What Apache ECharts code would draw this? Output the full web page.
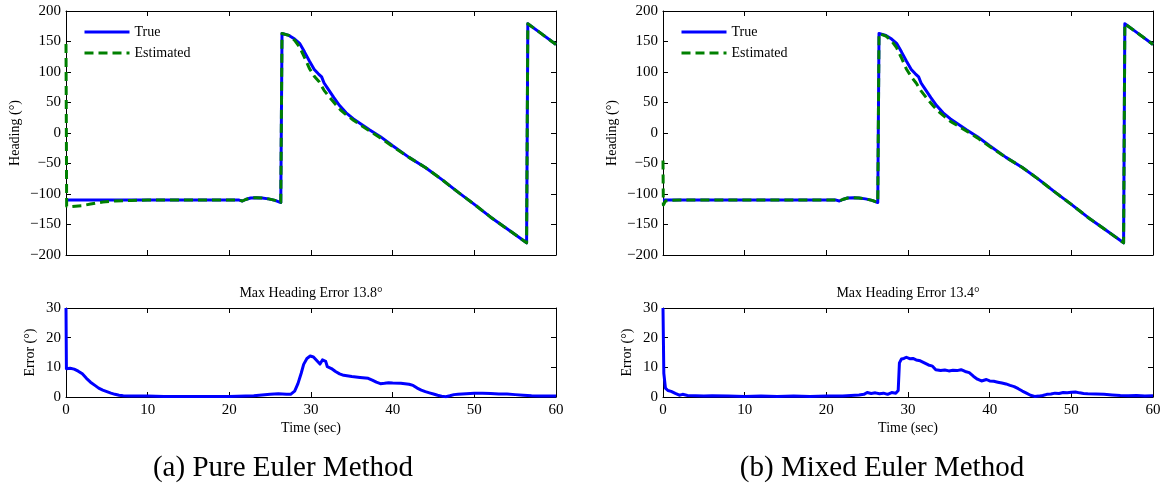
<!DOCTYPE html>
<html>
<head>
<meta charset="utf-8">
<script src="https://cdn.jsdelivr.net/npm/echarts@6/dist/echarts.min.js"></script>
<style>
  html, body { margin: 0; padding: 0; background: #fff; }
  #main { width: 1164px; height: 488px; }
</style>
</head>
<body>
<div id="main"></div>
<script>
// Heading (deg) versus time (sec): [time, value]
const trueHeading = [
  [0, -110], [21.2, -110], [21.6, -111.5], [22.0, -109], [22.6, -106.5], [23.3, -106],
  [24.0, -106.5], [24.8, -108], [25.6, -110.5], [26.3, -114], [26.4, -116],
  [26.45, 163], [27.3, 160], [28.0, 154], [28.6, 147], [29.2, 133], [29.8, 118],
  [30.4, 104], [30.9, 97], [31.3, 92], [31.6, 82], [32.1, 72], [32.8, 58], [33.5, 45],
  [34.3, 33], [35.2, 23], [36.2, 14], [37.2, 5], [38.5, -6], [40.0, -21], [42.0, -40],
  [44.0, -56.5], [46.0, -76], [48.0, -97], [50.0, -117], [52.0, -138], [54.0, -157],
  [56.4, -180], [56.55, 179], [58.0, 165], [60, 145]
];

const pureEstimated = [
  [0, 146], [0.08, -120], [0.6, -120.5], [2.0, -119], [3.0, -116.5], [4.5, -113],
  [6.0, -111.5], [8.0, -110.5], [10.0, -110], [21.2, -110], [21.6, -111.5], [22.0, -109],
  [22.6, -106.5], [23.3, -106], [24.0, -106.5], [24.8, -108], [25.6, -110.5], [26.3, -114],
  [26.4, -116], [26.45, 163], [27.3, 160], [28.0, 152], [28.6, 141], [29.2, 124],
  [29.8, 106], [30.4, 93], [31.0, 84], [31.6, 70], [32.3, 58], [33.0, 47], [33.6, 38],
  [34.3, 30], [35.2, 21], [36.2, 12], [37.2, 3], [38.5, -8], [40.0, -22], [42.0, -40],
  [44.0, -56.5], [46.0, -76], [48.0, -97], [50.0, -117], [52.0, -138], [54.0, -157],
  [56.4, -180], [56.55, 179], [58.0, 165], [60, 145]
];

const mixedEstimated = [
  [0, -45], [0.04, -118], [0.3, -111.5], [1.0, -110.5], [2.0, -110], [21.2, -110],
  [21.6, -111.5], [22.0, -109], [22.6, -106.5], [23.3, -106], [24.0, -106.5], [24.8, -108],
  [25.6, -110.5], [26.3, -114], [26.4, -116], [26.45, 163], [27.3, 159], [28.0, 151],
  [28.6, 140], [29.2, 123], [29.8, 105], [30.4, 92], [31.0, 82], [31.6, 69], [32.3, 57],
  [33.0, 46], [33.6, 37], [34.3, 29], [35.2, 19], [36.2, 11], [37.2, 3], [38.5, -8],
  [40.0, -22], [42.0, -40], [44.0, -56.5], [46.0, -76], [48.0, -97], [50.0, -117],
  [52.0, -138], [54.0, -157], [56.4, -180], [56.55, 179], [58.0, 165], [60, 145]
];

// Heading error magnitude (deg)
const pureError = [
  [0, 30], [0.05, 9.5], [0.5, 9.7], [1.0, 9.4], [1.5, 8.7], [2.0, 7.8], [2.5, 6.3],
  [3.0, 5.0], [3.5, 4.0], [4.0, 3.0], [4.5, 2.3], [5.0, 1.8], [5.5, 1.3], [6.0, 0.9],
  [6.5, 0.6], [7.0, 0.4], [8, 0.3], [10, 0.3], [12, 0.2], [15, 0.2], [18, 0.2], [20, 0.2],
  [22, 0.3], [23, 0.4], [24, 0.7], [25, 0.9], [26, 1.1], [27, 0.9], [27.5, 0.9],
  [28.0, 2.0], [28.4, 4.5], [28.8, 8.0], [29.1, 11.0], [29.5, 13.0], [29.9, 13.8],
  [30.3, 13.5], [30.7, 12.3], [31.1, 11.1], [31.4, 12.5], [31.6, 13.0], [31.8, 12.0],
  [32.0, 10.2], [32.5, 9.6], [33.0, 8.6], [33.5, 7.8], [34.0, 7.3], [35.0, 6.9],
  [36.0, 6.6], [37.0, 6.3], [37.5, 5.7], [38.0, 5.0], [38.5, 4.5], [39.0, 4.6],
  [39.5, 4.8], [40.0, 4.7], [41.0, 4.6], [42.0, 4.3], [42.5, 3.9], [43.0, 3.0],
  [43.5, 2.3], [44.0, 1.8], [44.5, 1.4], [45.0, 1.0], [45.5, 0.6], [46.0, 0.3],
  [46.5, 0.1], [47.0, 0.4], [47.5, 0.8], [48.0, 0.9], [49.0, 1.1], [50.0, 1.3],
  [51.0, 1.3], [52.0, 1.2], [53.0, 1.0], [54.0, 1.0], [55.0, 0.8], [56.0, 0.6],
  [57.0, 0.4], [58.0, 0.3], [59.0, 0.3], [60, 0.3]
];

const mixedError = [
  [0, 30], [0.1, 8], [0.3, 3], [0.6, 2.2], [1.0, 1.9], [1.5, 1.2], [2.0, 0.6], [2.4, 0.9],
  [3, 0.5], [4, 0.4], [5, 0.3], [6, 0.4], [8, 0.3], [10, 0.2], [12, 0.3], [14, 0.2],
  [16, 0.3], [18, 0.2], [20, 0.3], [22, 0.3], [23, 0.5], [24, 0.7], [24.6, 0.9],
  [25.0, 1.5], [25.5, 1.2], [26, 1.4], [26.5, 1.1], [27, 1.3], [27.5, 0.9], [28, 1.5],
  [28.5, 1.3], [28.8, 2.2], [28.95, 11.5], [29.2, 12.8], [29.5, 13.0], [29.8, 13.4],
  [30.2, 12.9], [30.6, 13.0], [31, 12.5], [31.5, 12.2], [32, 11.5], [32.5, 10.8],
  [33, 10.4], [33.4, 9.2], [34, 8.9], [34.5, 9.1], [35, 8.8], [35.5, 9.0], [36, 8.9],
  [36.5, 9.2], [37, 8.6], [37.5, 8.2], [38, 7.0], [38.5, 6.0], [39, 5.4], [39.6, 5.9],
  [40, 5.4], [40.5, 5.3], [41, 5.0], [41.5, 4.7], [42, 4.4], [42.5, 3.9], [43, 3.5],
  [43.5, 2.8], [44, 2.0], [44.5, 1.3], [45, 0.6], [45.5, 0.2], [46, 0.3], [46.5, 0.5],
  [47, 0.9], [47.5, 1.0], [48, 1.3], [48.5, 1.2], [49, 1.5], [49.5, 1.4], [50, 1.6],
  [50.5, 1.7], [51, 1.4], [51.5, 1.2], [52, 1.1], [53, 1.0], [54, 0.9], [55, 0.7],
  [56, 0.5], [57, 0.4], [58, 0.5], [59, 0.3], [60, 0.4]
];

const errorTitles = ['Max Heading Error 13.8°', 'Max Heading Error 13.4°'];
const captions = ['(a) Pure Euler Method', '(b) Mixed Euler Method'];
const seriesNames = ['True', 'Estimated'];

const FONT = '"Liberation Serif", "Times New Roman", serif';
const BLUE = '#0000ff';
const GREEN = '#008000';

const minusSign = v => String(v).replace('-', '\u2212');

const panelLeft = [66, 663];
const plotWidth = 490;

const grids = [];
panelLeft.forEach(l => {
  grids.push({ left: l, top: 11, width: plotWidth, height: 244 });
  grids.push({ left: l, top: 308, width: plotWidth, height: 89 });
});

function xAxisFor(gridIndex, position, opts) {
  return Object.assign({
    gridIndex, type: 'value', position, min: 0, max: 60, interval: 10,
    axisLine: { show: true, onZero: false, lineStyle: { color: '#000', width: 1 } },
    axisTick: { show: true, inside: true, length: 5, lineStyle: { color: '#000', width: 1 } },
    axisLabel: { show: false },
    splitLine: { show: false }
  }, opts || {});
}
function yAxisFor(gridIndex, position, min, max, interval, opts) {
  return Object.assign({
    gridIndex, type: 'value', position, min, max, interval,
    axisLine: { show: true, onZero: false, lineStyle: { color: '#000', width: 1 } },
    axisTick: { show: true, inside: true, length: 5, lineStyle: { color: '#000', width: 1 } },
    axisLabel: { show: false },
    splitLine: { show: false }
  }, opts || {});
}

const xAxes = [];
const yAxes = [];
for (let p = 0; p < 2; p++) {
  const gH = p * 2, gE = p * 2 + 1;
  // heading plot: ticks on all four sides, no x labels
  xAxes.push(xAxisFor(gH, 'bottom'));
  xAxes.push(xAxisFor(gH, 'top'));
  // error plot
  xAxes.push(xAxisFor(gE, 'bottom', {
    axisLabel: { show: true, color: '#000', fontFamily: FONT, fontSize: 15, margin: 6 },
    name: 'Time (sec)', nameLocation: 'middle', nameGap: 24,
    nameTextStyle: { color: '#000', fontFamily: FONT, fontSize: 14 }
  }));
  xAxes.push(xAxisFor(gE, 'top', {
    name: errorTitles[p], nameLocation: 'middle', nameGap: 8,
    nameTextStyle: { color: '#000', fontFamily: FONT, fontSize: 14 }
  }));

  yAxes.push(yAxisFor(gH, 'left', -200, 200, 50, {
    axisLabel: { show: true, color: '#000', fontFamily: FONT, fontSize: 15, margin: 5, formatter: minusSign },
    name: 'Heading (°)', nameLocation: 'middle', nameGap: 44, nameRotate: 90,
    nameTextStyle: { color: '#000', fontFamily: FONT, fontSize: 14 }
  }));
  yAxes.push(yAxisFor(gH, 'right', -200, 200, 50));
  yAxes.push(yAxisFor(gE, 'left', 0, 30, 10, {
    axisLabel: { show: true, color: '#000', fontFamily: FONT, fontSize: 15, margin: 5 },
    name: 'Error (°)', nameLocation: 'middle', nameGap: 29, nameRotate: 90,
    nameTextStyle: { color: '#000', fontFamily: FONT, fontSize: 14 }
  }));
  yAxes.push(yAxisFor(gE, 'right', 0, 30, 10));
}

function lineSeries(name, data, axisIdx, color, dashed) {
  return {
    name, type: 'line', data,
    xAxisIndex: axisIdx, yAxisIndex: axisIdx,
    showSymbol: false, symbol: 'none', animation: false,
    lineStyle: { color, width: 3, type: dashed ? [9, 5] : 'solid', join: 'round' },
    itemStyle: { color }
  };
}

const estimates = [pureEstimated, mixedEstimated];
const errors = [pureError, mixedError];
const series = [];
for (let p = 0; p < 2; p++) {
  series.push(lineSeries(seriesNames[0], trueHeading, p * 4, BLUE, false));
  series.push(lineSeries(seriesNames[1], estimates[p], p * 4, GREEN, true));
  series.push(lineSeries('Error ' + p, errors[p], p * 4 + 2, BLUE, false));
}

// legend key: line sample only (marker hidden)
const legends = panelLeft.map(l => ({
  data: seriesNames,
  orient: 'vertical', left: l + 17, top: 25, padding: 0,
  itemWidth: 45, itemHeight: 14, itemGap: 7,
  selectedMode: false,
  itemStyle: { opacity: 0, color: 'rgba(0,0,0,0)', borderWidth: 0 },
  lineStyle: { width: 3 },
  textStyle: { color: '#000', fontFamily: FONT, fontSize: 14 }
}));

const captionX = [283, 882];
const graphics = captions.map((c, i) => ({
  type: 'text', x: captionX[i], y: 468,
  style: { text: c, fill: '#000', font: '29px ' + FONT, textAlign: 'center', textVerticalAlign: 'middle' }
}));

const chart = echarts.init(document.getElementById('main'), null, { renderer: 'canvas' });
chart.setOption({
  backgroundColor: '#fff',
  animation: false,
  grid: grids,
  xAxis: xAxes,
  yAxis: yAxes,
  legend: legends,
  series,
  graphic: graphics
});
</script>
</body>
</html>
